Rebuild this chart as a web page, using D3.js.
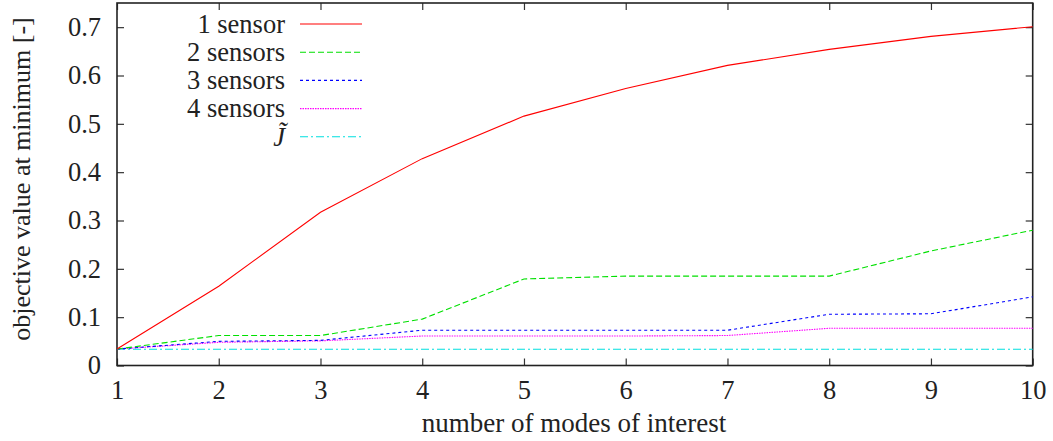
<!DOCTYPE html>
<html lang="en">
<head>
<meta charset="utf-8">
<script src="https://cdn.jsdelivr.net/npm/d3@7"></script>
</head>
<body style="margin:0">
<svg width="1053" height="441" id="plot"></svg>
<script>
// data
const modes = [1, 2, 3, 4, 5, 6, 7, 8, 9, 10]
const oneSensor   = [0.034, 0.164, 0.317, 0.428, 0.516, 0.573, 0.621, 0.654, 0.681, 0.701]
const twoSensors  = [0.034, 0.062, 0.062, 0.096, 0.179, 0.185, 0.185, 0.185, 0.237, 0.280]
const threeSensors = [0.034, 0.050, 0.052, 0.073, 0.073, 0.073, 0.073, 0.106, 0.107, 0.142]
const fourSensors = [0.034, 0.048, 0.051, 0.061, 0.061, 0.061, 0.062, 0.077, 0.077, 0.077]
const jTilde      = [0.0335, 0.0335, 0.0335, 0.0335, 0.0335, 0.0335, 0.0335, 0.0335, 0.0335, 0.0335]
const yTicks = [0, 0.1, 0.2, 0.3, 0.4, 0.5, 0.6, 0.7]

const series = [
  { name: "1 sensor",  values: oneSensor,    color: "#ff0000", dash: null },
  { name: "2 sensors", values: twoSensors,   color: "#00e000", dash: "6,3" },
  { name: "3 sensors", values: threeSensors, color: "#0000ff", dash: "3,3" },
  { name: "4 sensors", values: fourSensors,  color: "#ff00ff", dash: "1.5,1" },
  { name: "J\u0303",   values: jTilde,       color: "#00e0e0", dash: "8,3,2,3", italic: true }
]

let svg = d3.select("#plot")
const plotLeft = 117, plotRight = 1032.7, plotTop = 3, plotBottom = 365.5

let x = d3.scaleLinear().domain([1, 10]).range([plotLeft, plotRight])
let y = d3.scaleLinear().domain([0, 0.75]).range([plotBottom, plotTop])

// axes, ticks drawn inward like gnuplot
let gx = svg.append("g").attr("transform", `translate(0,${plotBottom})`)
  .call(d3.axisBottom(x).tickValues(modes).tickFormat(d3.format("d")).tickSizeInner(-7).tickSizeOuter(0).tickPadding(15))
let gxTop = svg.append("g").attr("transform", `translate(0,${plotTop})`)
  .call(d3.axisTop(x).tickValues(modes).tickFormat("").tickSizeInner(-7).tickSizeOuter(0))
let gy = svg.append("g").attr("transform", `translate(${plotLeft},0)`)
  .call(d3.axisLeft(y).tickValues(yTicks).tickFormat(d => d === 0 ? "0" : d3.format(".1f")(d)).tickSizeInner(-7).tickSizeOuter(0).tickPadding(16))
let gyRight = svg.append("g").attr("transform", `translate(${plotRight},0)`)
  .call(d3.axisRight(y).tickValues(yTicks).tickFormat("").tickSizeInner(-7).tickSizeOuter(0))

svg.selectAll(".domain").remove()
svg.selectAll("g").attr("font-family", null).attr("font-size", null)
svg.selectAll(".tick line").attr("stroke", "#333").attr("stroke-width", 1.2)
svg.selectAll(".tick text")
  .attr("font-family", "Liberation Serif").attr("font-size", 26.5).attr("fill", "#222")
gx.selectAll(".tick text").attr("dy", "0.71em")

// frame
svg.append("rect")
  .attr("x", plotLeft).attr("y", plotTop)
  .attr("width", plotRight - plotLeft).attr("height", plotBottom - plotTop)
  .attr("fill", "none").attr("stroke", "#222").attr("stroke-width", 1.6)

// lines
let line = d3.line()
  .x((d, i) => x(modes[i]))
  .y(d => y(d))

// draw J~ first so the others sit on top
series.slice().reverse().forEach(s => {
  svg.append("path")
    .datum(s.values)
    .attr("fill", "none")
    .attr("stroke", s.color)
    .attr("stroke-width", 1.1)
    .attr("stroke-dasharray", s.dash)
    .attr("d", line)
})

// legend
let legend = svg.append("g")
series.forEach((s, i) => {
  let ly = 24 + i * 28.2
  legend.append("text")
    .text(s.name)
    .attr("x", 285).attr("y", ly)
    .attr("dy", "0.33em")
    .attr("text-anchor", "end")
    .attr("fill", "#222")
    .attr("font-family", "Liberation Serif")
    .attr("font-size", 26.5)
    .attr("font-style", s.italic ? "italic" : "normal")
  legend.append("line")
    .attr("x1", 300).attr("x2", 362)
    .attr("y1", ly).attr("y2", ly)
    .attr("stroke", s.color)
    .attr("stroke-width", 1.1)
    .attr("stroke-dasharray", s.dash)
})

// axis labels
svg.append("text")
  .text("number of modes of interest")
  .attr("x", 574).attr("y", 432)
  .attr("text-anchor", "middle")
  .attr("fill", "#222")
  .attr("font-family", "Liberation Serif")
  .attr("font-size", 27)

svg.append("text")
  .text("objective value at minimum [-]")
  .attr("transform", "translate(30,179) rotate(-90)")
  .attr("text-anchor", "middle")
  .attr("fill", "#222")
  .attr("font-family", "Liberation Serif")
  .attr("font-size", 26)
</script>
</body>
</html>
